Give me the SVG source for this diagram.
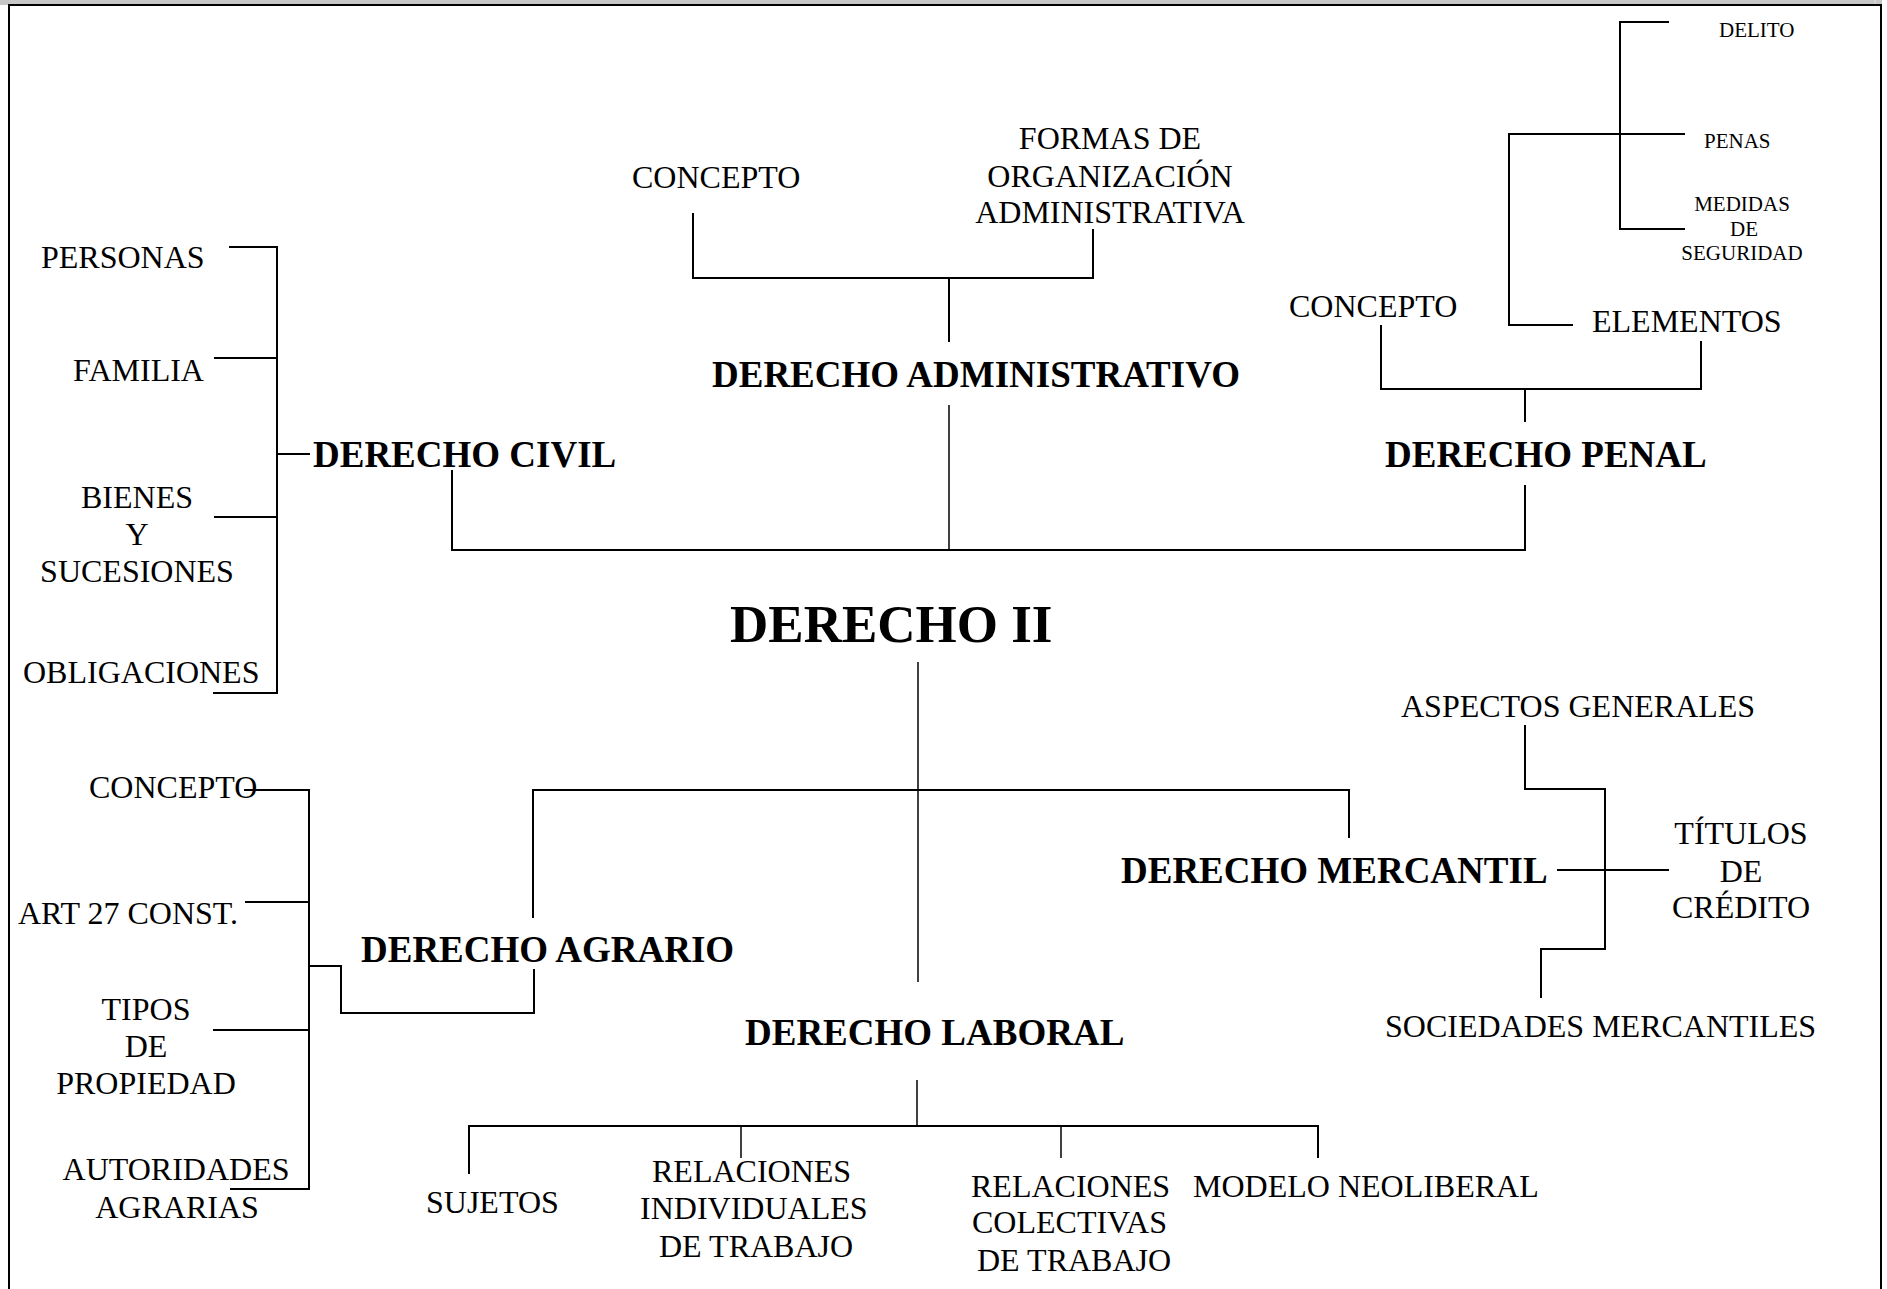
<svg xmlns="http://www.w3.org/2000/svg" width="1887" height="1289" viewBox="0 0 1887 1289">
<style>
text{font-family:"Liberation Serif","Times New Roman",serif;fill:#000}
.r{font-size:32px}
.s{font-size:21px}
.b{font-size:37px;font-weight:bold}
.t{font-size:53px;font-weight:bold}
.m{text-anchor:middle}
.c path{fill:none;stroke:#000;stroke-width:2}
.frame{fill:none;stroke:#000;stroke-width:2}
</style>
<rect width="1887" height="1289" fill="#fff"/>
<g id="frame">
<rect x="0" y="0" width="1882" height="5" fill="#c6c6c6"/>
<line x1="1875" y1="0" x2="1875" y2="5" stroke="#e0e0e0" stroke-width="1"/>
<path class="frame" d="M9,1289 V5 H1881 V1289"/>
</g>
<g class="c" id="connectors">
<path d="M229,247 H277 V693 H213"/>
<path d="M214,358 H277"/>
<path d="M214,517 H277"/>
<path d="M277,454 H310"/>
<path d="M452,470 V550 H1525 V485"/>
<path d="M693,213 V278 H1093 V229"/>
<path d="M949,278 V342"/>
<path d="M949,405 V550" style="stroke-width:1.5"/>
<path d="M1669,22 H1620 V229 H1685"/>
<path d="M1685,134 H1509 V325 H1573"/>
<path d="M1381,325 V389 H1701 V341"/>
<path d="M1525,389 V422"/>
<path d="M918,662 V982" style="stroke-width:1.5"/>
<path d="M533,918 V790 H1349 V838"/>
<path d="M244,790 H309 V1189 H230"/>
<path d="M245,902 H309"/>
<path d="M213,1030 H309"/>
<path d="M309,966 H341 V1013 H534 V969"/>
<path d="M1525,725 V789 H1605 V949 H1541 V998"/>
<path d="M1557,870 H1669"/>
<path d="M917,1080 V1126" style="stroke-width:1.5"/>
<path d="M469,1174 V1126 H1318 V1158"/>
<path d="M741,1126 V1158" style="stroke-width:1.5"/>
<path d="M1061,1126 V1158" style="stroke-width:1.5"/>
</g>
<g id="derecho-ii"><text class="t" x="730" y="642">DERECHO II</text></g>
<g id="derecho-civil"><text class="b" x="313" y="467">DERECHO CIVIL</text></g>
<g id="civil-personas"><text class="r" x="41" y="268">PERSONAS</text></g>
<g id="civil-familia"><text class="r" x="73" y="381">FAMILIA</text></g>
<g id="civil-bienes"><text class="r m" x="137" y="508">BIENES</text><text class="r m" x="137" y="545">Y</text><text class="r m" x="137" y="582">SUCESIONES</text></g>
<g id="civil-obligaciones"><text class="r" x="23" y="683">OBLIGACIONES</text></g>
<g id="derecho-administrativo"><text class="b" x="712" y="387">DERECHO ADMINISTRATIVO</text></g>
<g id="admin-concepto"><text class="r" x="632" y="188">CONCEPTO</text></g>
<g id="admin-formas"><text class="r m" x="1110" y="149">FORMAS DE</text><text class="r m" x="1110" y="187">ORGANIZACIÓN</text><text class="r m" x="1110" y="223">ADMINISTRATIVA</text></g>
<g id="derecho-penal"><text class="b" x="1385" y="467">DERECHO PENAL</text></g>
<g id="penal-concepto"><text class="r" x="1289" y="317">CONCEPTO</text></g>
<g id="penal-elementos"><text class="r" x="1592" y="332">ELEMENTOS</text></g>
<g id="penal-delito"><text class="s" x="1719" y="37">DELITO</text></g>
<g id="penal-penas"><text class="s" x="1704" y="148">PENAS</text></g>
<g id="penal-medidas"><text class="s m" x="1742" y="211">MEDIDAS</text><text class="s m" x="1744" y="236">DE</text><text class="s m" x="1742" y="260">SEGURIDAD</text></g>
<g id="derecho-agrario"><text class="b" x="361" y="962">DERECHO AGRARIO</text></g>
<g id="agrario-concepto"><text class="r" x="89" y="798">CONCEPTO</text></g>
<g id="agrario-art27"><text class="r" x="18" y="924">ART 27 CONST.</text></g>
<g id="agrario-tipos"><text class="r m" x="146" y="1020">TIPOS</text><text class="r m" x="146" y="1057">DE</text><text class="r m" x="146" y="1094">PROPIEDAD</text></g>
<g id="agrario-autoridades"><text class="r m" x="176" y="1180">AUTORIDADES</text><text class="r m" x="177" y="1218">AGRARIAS</text></g>
<g id="derecho-mercantil"><text class="b" x="1121" y="883">DERECHO MERCANTIL</text></g>
<g id="mercantil-aspectos"><text class="r" x="1401" y="717">ASPECTOS GENERALES</text></g>
<g id="mercantil-titulos"><text class="r m" x="1741" y="844">TÍTULOS</text><text class="r m" x="1741" y="882">DE</text><text class="r m" x="1741" y="918">CRÉDITO</text></g>
<g id="mercantil-sociedades"><text class="r" x="1385" y="1037">SOCIEDADES MERCANTILES</text></g>
<g id="derecho-laboral"><text class="b" x="745" y="1045">DERECHO LABORAL</text></g>
<g id="laboral-sujetos"><text class="r" x="426" y="1213">SUJETOS</text></g>
<g id="laboral-individuales"><text class="r" x="652" y="1182">RELACIONES</text><text class="r" x="640" y="1219">INDIVIDUALES</text><text class="r" x="659" y="1257">DE TRABAJO</text></g>
<g id="laboral-colectivas"><text class="r" x="971" y="1197">RELACIONES</text><text class="r" x="972" y="1233">COLECTIVAS</text><text class="r" x="977" y="1271">DE TRABAJO</text></g>
<g id="laboral-modelo"><text class="r" x="1193" y="1197">MODELO NEOLIBERAL</text></g>
</svg>
